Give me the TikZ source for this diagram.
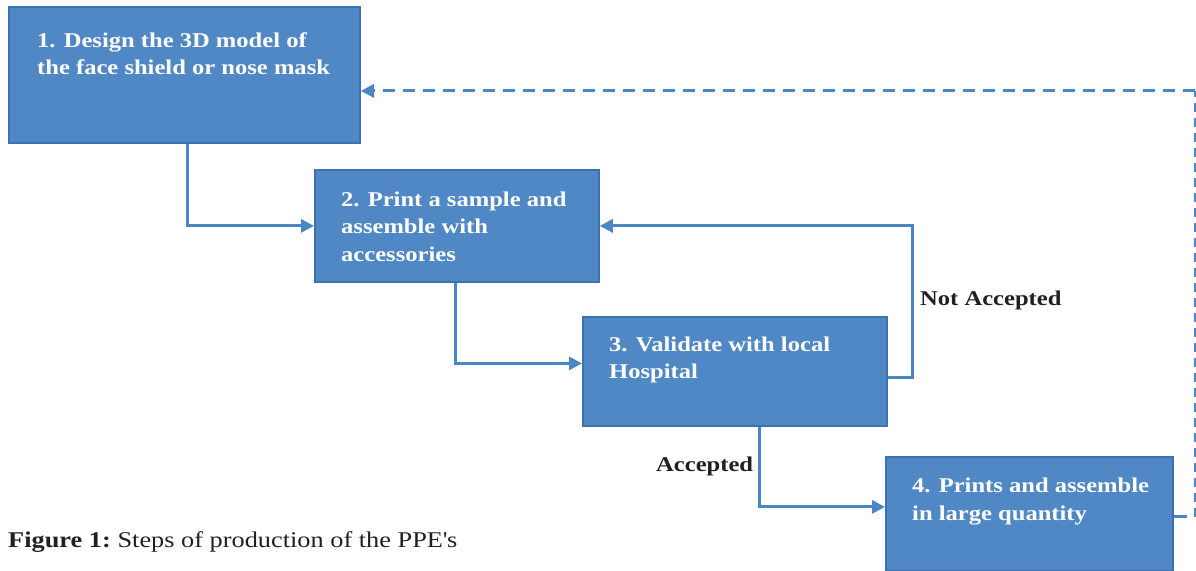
\documentclass[tikz,border=0pt]{standalone}
\usepackage{fontspec}
\setmainfont{Liberation Serif}[FakeStretch=1.17]
\usetikzlibrary{arrows.meta,calc}
\definecolor{boxfill}{HTML}{4F88C4}
\definecolor{boxedge}{HTML}{3C72AE}
\definecolor{linec}{HTML}{4A86C6}
\definecolor{labc}{HTML}{231F20}
\begin{document}
\begin{tikzpicture}[x=1pt,y=-1pt,
  stepbox/.style={draw=boxedge, fill=boxfill, line width=1.8pt, anchor=north west, inner sep=0pt},
  steptext/.style={anchor=base west, text=white, font=\fontsize{21}{27.5}\selectfont\bfseries, align=left, inner sep=0pt},
  conn/.style={draw=linec, line width=3pt, -{Triangle[length=13pt,width=13pt]}},
  back/.style={draw=linec, line width=3pt, dash pattern=on 12pt off 8pt},
  lab/.style={anchor=base west, text=labc, font=\fontsize{21}{25}\selectfont\bfseries, inner sep=0pt}]
\useasboundingbox (0,0) rectangle (1196,570);
% boxes
\node[stepbox, minimum width=351pt, minimum height=136pt] (b1) at (8,6) {};
\node[stepbox, minimum width=284pt, minimum height=112pt] (b2) at (314,169) {};
\node[stepbox, minimum width=304pt, minimum height=109pt] (b3) at (582,316) {};
\node[stepbox, minimum width=287pt, minimum height=114pt] (b4) at (885,456) {};
% texts (anchored at the baseline of the last line)
\node[steptext] (t1) at ($(b1.north west)+(29,68.5)$) {1. Design the 3D model of\\the face shield or nose mask};
\node[steptext] (t2) at ($(b2.north west)+(27,92)$) {2. Print a sample and\\assemble with\\accessories};
\node[steptext] (t3) at ($(b3.north west)+(27,62.5)$) {3. Validate with local\\Hospital};
\node[steptext] (t4) at ($(b4.north west)+(27,64)$) {4. Prints and assemble\\in large quantity};
% connectors
\draw[conn] ($(b1.south west)+(179,0)$) |- (b2.west);
\draw[conn] ($(b2.south west)+(141,0)$) |- ($(b3.west)+(0,-8)$);
\draw[conn] ($(b3.east)+(0,6.5)$) -- ++(25,0) |- (b2.east);
\draw[conn] ($(b3.south west)+(177,0)$) |- ($(b4.west)+(0,-7)$);
\coordinate (r) at ($(b4.east)+(21,3)$);
\coordinate (top) at ($(b1.east)+(0,16)$);
\draw[draw=linec, line width=3pt] ($(b4.east)+(0,3)$) -- ($(b4.east)+(13,3)$);
\draw[back, line width=1.8pt, dash pattern=on 9pt off 6pt] (r) -- (r |- top);
\draw[back, -{Triangle[length=13pt,width=13pt]}] (r |- top) -- (top);
% labels
\node[lab] (na) at (920,305) {Not Accepted};
\node[lab] (ac) at (656,471) {Accepted};
% caption
\node[anchor=base west, inner sep=0pt, text=labc, font=\fontsize{22.5}{26}\selectfont] (cap) at (8,547) {\textbf{Figure 1:}\hspace{-2pt} Steps of production of the PPE\textquotesingle s};
\end{tikzpicture}
\end{document}
